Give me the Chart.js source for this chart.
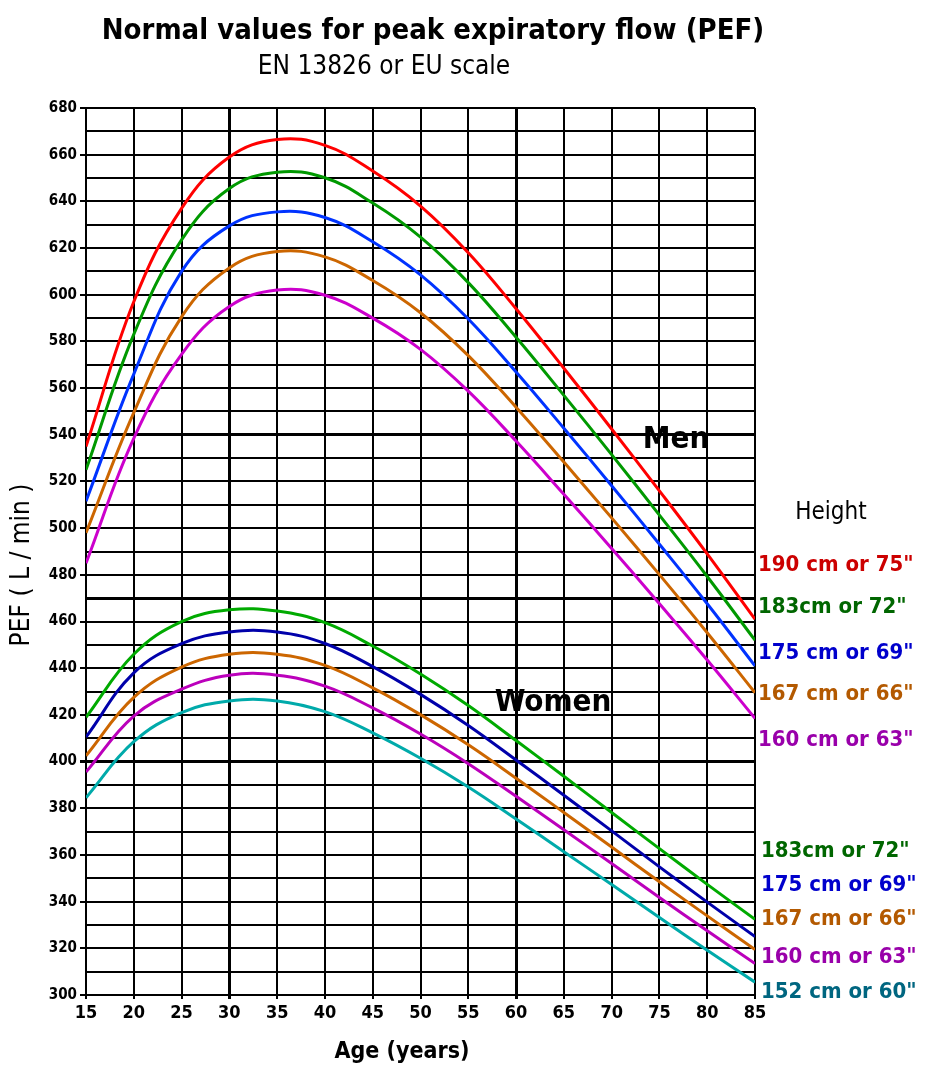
<!DOCTYPE html>
<html>
<head>
<meta charset="utf-8">
<script src="https://cdn.jsdelivr.net/npm/chart.js@4"></script>
<style>
  body { margin: 0; background: #fff; }
  #pef { display: block; }
</style>
</head>
<body>
<canvas id="pef" width="925" height="1066"></canvas>
<script>
const ages = [15, 20, 25, 30, 35, 40, 45, 50, 55, 60, 65, 70, 75, 80, 85];

// men, by height
const men190 = [535, 597, 637, 659, 666.5, 664, 653, 638, 618, 594, 568.5, 542.5, 516, 489, 461];
const men183 = [525, 583, 623.5, 645.5, 652.5, 650.1, 639.3, 624.7, 605.2, 581.8, 556.9, 531.5, 505.6, 479.3, 452];
const men175 = [511.5, 566, 610, 629.5, 635.5, 633.1, 622.7, 608.5, 589.6, 566.9, 542.8, 518.2, 493.1, 467.6, 441];
const men167 = [498, 549.5, 590.5, 611.5, 618.5, 616.2, 606.1, 592.3, 573.9, 551.8, 528.3, 504.4, 480.1, 455.2, 429.5];
const men160 = [485, 538.5, 574.5, 595, 602, 599.8, 590, 576.6, 558.7, 537.3, 514.5, 491.3, 467.6, 443.5, 418.5];

// women, by height
const women183 = [419, 446, 460, 465, 464.5, 459.5, 449.5, 437.5, 424, 409, 393.7, 378.2, 362.7, 347.4, 332.4];
const women175 = [410.5, 438, 450.5, 455.5, 455.5, 450.6, 440.7, 428.8, 415.5, 400.7, 385.6, 370.3, 354.9, 339.8, 325];
const women167 = [402.5, 427.5, 440.5, 446, 446, 441.2, 431.6, 420.1, 407.2, 392.9, 378.2, 363.4, 348.5, 333.9, 319.5];
const women160 = [395.5, 419.5, 431, 437, 437, 432.3, 423, 411.8, 399.1, 385.1, 370.8, 356.3, 341.8, 327.5, 313.5];
const women152 = [384.5, 408.5, 421, 426, 426, 421.4, 412.3, 401.4, 389.1, 375.4, 361.4, 347.3, 333.2, 319.2, 305.5];

const menLabels = ['190 cm or 75"', '183cm or 72"', '175 cm or 69"', '167 cm or 66"', '160 cm or 63"'];
const womenLabels = ['183cm or 72"', '175 cm or 69"', '167 cm or 66"', '160 cm or 63"', '152 cm or 60"'];

const condensed = '"DejaVu Sans Condensed", "DejaVu Sans", sans-serif';

function line(values, color) {
    return {
        data: values.map((v, i) => ({ x: ages[i], y: v })),
        borderColor: color,
        borderWidth: 3,
        pointRadius: 0,
        fill: false,
        tension: 0.4
    };
}

const textPlugin = {
    id: 'textPlugin',
    afterDraw(chart) {
        const ctx = chart.ctx;
        ctx.save();
        ctx.textBaseline = 'middle';
        ctx.textAlign = 'center';
        ctx.fillStyle = '#000';

        ctx.font = 'bold 29px ' + condensed;
        ctx.fillText('Normal values for peak expiratory flow (PEF)', 433, 31);
        ctx.font = '26px ' + condensed;
        ctx.fillText('EN 13826 or EU scale', 384, 67);

        ctx.font = 'bold 31px ' + condensed;
        ctx.fillText('Men', 676, 440);
        ctx.fillText('Women', 553, 703);

        ctx.font = '24px ' + condensed;
        ctx.fillText('Height', 831, 513);

        ctx.font = 'bold 23px ' + condensed;
        ctx.fillText('Age (years)', 402, 1052);

        ctx.textAlign = 'left';
        ctx.font = 'bold 22px ' + condensed;
        const menColors = ['#cc0000', '#006600', '#0000cc', '#b35900', '#9900aa'];
        const menY = [565, 607, 653, 694, 740];
        menLabels.forEach((t, i) => {
            ctx.fillStyle = menColors[i];
            ctx.fillText(t, 758, menY[i]);
        });
        const womenColors = ['#006600', '#0000cc', '#b35900', '#9900aa', '#006680'];
        const womenY = [851, 885, 919, 957, 992];
        womenLabels.forEach((t, i) => {
            ctx.fillStyle = womenColors[i];
            ctx.fillText(t, 761, womenY[i]);
        });

        ctx.fillStyle = '#000';
        ctx.font = '26px ' + condensed;
        ctx.translate(22, 565);
        ctx.rotate(-Math.PI / 2);
        ctx.textAlign = 'center';
        ctx.fillText('PEF ( L / min )', 0, 0);
        ctx.restore();
    }
};

new Chart(document.getElementById('pef'), {
    type: 'line',
    data: {
        datasets: [
            line(men190, '#ff0000'),
            line(men183, '#009900'),
            line(men175, '#0033ff'),
            line(men167, '#cc6600'),
            line(men160, '#cc00cc'),
            line(women183, '#00aa00'),
            line(women175, '#0000aa'),
            line(women167, '#cc6600'),
            line(women160, '#bb00bb'),
            line(women152, '#00aaaa')
        ]
    },
    options: {
        responsive: false,
        animation: false,
        events: [],
        layout: { padding: { left: 0, top: 108, right: 170, bottom: 0 } },
        plugins: {
            legend: { display: false },
            tooltip: { enabled: false }
        },
        scales: {
            x: {
                type: 'linear',
                min: 15,
                max: 85,
                afterFit: (scale) => { scale.height = 71; },
                ticks: {
                    stepSize: 5,
                    color: '#000',
                    padding: 4,
                    font: { family: condensed, weight: 'bold', size: 18 }
                },
                grid: {
                    color: '#000',
                    lineWidth: (c) => (c.tick && (c.tick.value === 30 || c.tick.value === 60)) ? 3 : 2,
                    tickLength: 4
                },
                border: { color: '#000', width: 2 }
            },
            y: {
                min: 300,
                max: 680,
                afterFit: (scale) => { scale.width = 86; },
                ticks: {
                    stepSize: 10,
                    color: '#000',
                    padding: 3,
                    font: { family: condensed, weight: 'bold', size: 15 },
                    callback: (v) => (v % 20 === 0 ? v : '')
                },
                grid: {
                    color: '#000',
                    lineWidth: (c) => (c.tick && [540, 470, 400].includes(c.tick.value)) ? 3 : 2,
                    tickColor: (c) => (c.tick && c.tick.value % 20 === 0) ? '#000' : 'rgba(0,0,0,0)',
                    tickLength: 6
                },
                border: { color: '#000', width: 2 }
            }
        }
    },
    plugins: [textPlugin]
});
</script>
</body>
</html>
